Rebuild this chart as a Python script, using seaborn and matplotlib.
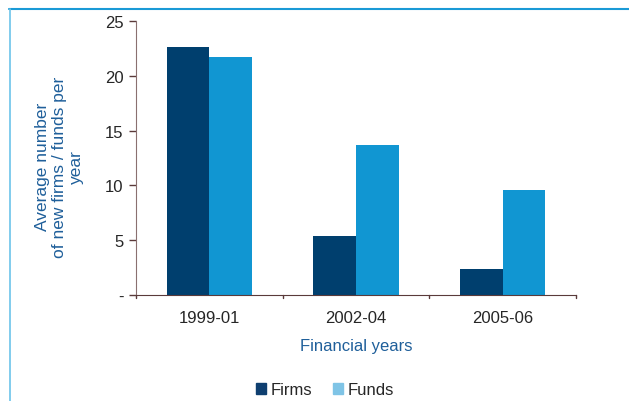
import pandas as pd
import seaborn as sns
import matplotlib.pyplot as plt
from matplotlib.patches import Rectangle

# data
years = ["1999-01", "2002-04", "2005-06"]
firms = [22.6, 5.4, 2.4]
funds = [21.7, 13.7, 9.6]

df = pd.DataFrame({
    "year": years * 2,
    "value": firms + funds,
    "kind": ["Firms"] * 3 + ["Funds"] * 3,
})

sns.set_style("white")
plt.rcParams['font.family'] = ['Liberation Sans', 'DejaVu Sans']

colors = {"Firms": "#003f6e", "Funds": "#1196d2"}

fig = plt.figure(figsize=(6.29, 4.02), dpi=100)
ax = fig.add_axes([136 / 629, 1 - 296 / 402, 440 / 629, 274 / 402])

sns.barplot(data=df, x="year", y="value", hue="kind", palette=colors,
            width=0.58, saturation=1, linewidth=0, ax=ax, legend=False)

ax.set_xlim(-0.5, 2.5)
ax.set_ylim(0, 25)
ax.set_yticks([0, 5, 10, 15, 20, 25])
ax.set_yticklabels(["-", "5", "10", "15", "20", "25"])
ax.tick_params(axis="y", labelsize=12, length=5, width=1, color="#5a3a3a",
               direction="out", left=True, pad=4)
ax.set_xticks([0, 1, 2])
ax.set_xticklabels(years)
ax.tick_params(axis="x", labelsize=12, length=0, pad=11)
# category separator ticks on the x axis
for xb in [-0.5, 0.5, 1.5, 2.5]:
    ax.plot([xb, xb], [0, -0.3], color="#5a3a3a", lw=1, clip_on=False)

for s in ["top", "right"]:
    ax.spines[s].set_visible(False)
ax.spines["left"].set_color("#8a7070")
ax.spines["bottom"].set_color("#5a3a3a")

ax.set_xlabel("Financial years", fontsize=12, color="#1f5f9a", labelpad=9)
ax.set_ylabel("Average number\nof new firms / funds per\nyear", fontsize=12.5,
              color="#1f5f9a", linespacing=1.15, multialignment="center")
ax.yaxis.set_label_coords(-0.118, 0.47)

# legend below
handles = [Rectangle((0, 0), 1, 1, color="#0f3f70"), Rectangle((0, 0), 1, 1, color="#7fc4e6")]
fig.legend(handles, ["Firms", "Funds"], loc="center", bbox_to_anchor=(325 / 629, 1 - 391 / 402),
           ncol=2, frameon=False, fontsize=12, handlelength=0.6, handleheight=0.6,
           handletextpad=0.3, columnspacing=1.2)

# frame lines of the figure box
fig.add_artist(plt.Line2D([9 / 629, 1], [1 - 9.5 / 402, 1 - 9.5 / 402], color="#1a9ad6", lw=1.5))
fig.add_artist(plt.Line2D([9.5 / 629, 9.5 / 629], [0, 1 - 9.5 / 402], color="#6cc3ea", lw=1.2))

fig.savefig("out.png", dpi=100)
